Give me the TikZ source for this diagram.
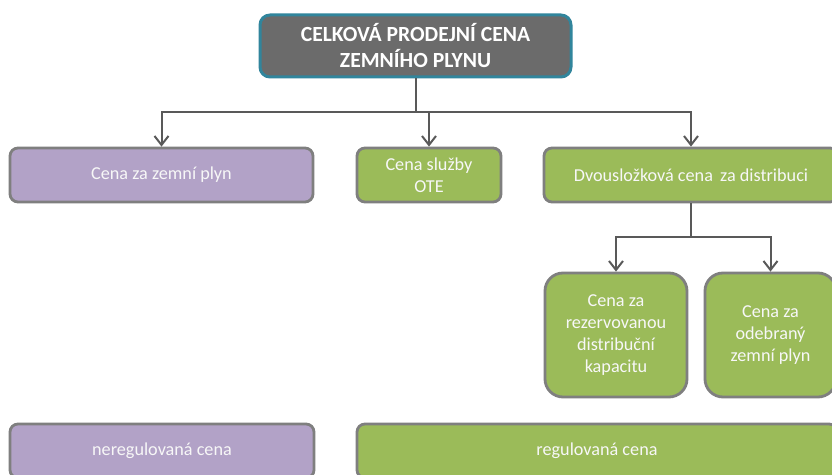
\documentclass[tikz,border=0pt]{standalone}
\usepackage{fontspec}
\setmainfont{Carlito}
\usepackage{tikz}
\usetikzlibrary{arrows.meta, positioning}
\definecolor{TitleGray}{HTML}{6B6B6B}
\definecolor{TitleTeal}{HTML}{31859C}
\definecolor{FreePurple}{HTML}{B2A2C7}
\definecolor{RegGreen}{HTML}{9BBB59}
\definecolor{BorderGray}{HTML}{7F7F7F}
\definecolor{LineGray}{HTML}{595959}
\tikzset{
  titlebox/.style={rectangle, rounded corners=5pt, draw=TitleTeal, line width=1.5pt, fill=TitleGray, text=white, font=\fontsize{10.8}{13}\selectfont\bfseries, align=center},
  pricebox/.style={rectangle, rounded corners=4pt, draw=BorderGray, line width=1.4pt, text=white!94!gray, font=\fontsize{9.1}{11}\selectfont, align=center},
  freebox/.style={pricebox, fill=FreePurple},
  regbox/.style={pricebox, fill=RegGreen},
  tallbox/.style={regbox, rounded corners=9pt},
  link/.style={draw=LineGray, line width=1pt},
  arrow/.style={link, -{Straight Barb[length=4.5pt, width=7pt]}}
}
\begin{document}
\begin{tikzpicture}[x=0.5pt, y=-0.5pt]
  \useasboundingbox[fill=white] (0,0) rectangle (832,475);

  % Top
  \node[titlebox, minimum width=155.5pt, minimum height=31pt] (total) at (415.5,46) {CELKOVÁ PRODEJNÍ CENA\\ZEMNÍHO PLYNU};

  % First level
  \node[freebox, minimum width=151.5pt, minimum height=27pt] (gas) at (161.5,175) {Cena za zemní plyn};
  \node[regbox, minimum width=72pt, minimum height=27pt] (ote) at (429,175) {Cena služby\\OTE};
  \node[regbox, minimum width=147pt, minimum height=27pt] (dist) at (691,175) {Dvousložková cena\, za distribuci};

  % Second level
  \node[tallbox, minimum width=71pt, minimum height=62pt] (capacity) at (616,335) {Cena za\\rezervovanou\\distribuční\\kapacitu};
  \node[tallbox, minimum width=65.5pt, minimum height=62pt] (volume) at (770.5,335) {Cena za\\odebraný\\zemní plyn};

  % Bottom
  \node[freebox, minimum width=152pt, minimum height=27pt] (free) at (162,451) {neregulovaná cena};
  \node[regbox, minimum width=240pt, minimum height=27pt] (regulated) at (597,451) {regulovaná cena};

  % Connectors
  \coordinate (split) at (415.5,112);
  \draw[link] (total.south) -- (split);
  \draw[arrow] (split) -| (gas.north);
  \draw[arrow] (split) -| (ote.north);
  \draw[arrow] (split) -| (dist.north);

  \coordinate (split2) at (691,237);
  \draw[link] (dist.south) -- (split2);
  \draw[arrow] (split2) -| (capacity.north);
  \draw[arrow] (split2) -| (volume.north);
\end{tikzpicture}
\end{document}
